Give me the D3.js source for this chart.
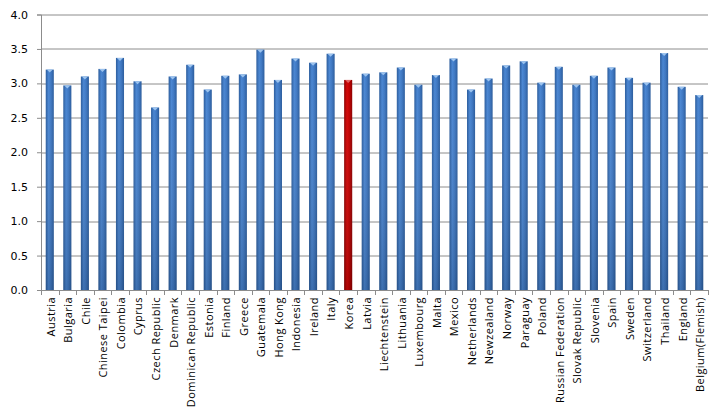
<!doctype html>
<html lang="en">
<head>
<meta charset="utf-8">
<script src="https://d3js.org/d3.v7.min.js"></script>
<style>
body { margin: 0; background: #fff; }
.axis text { font-family: "DejaVu Sans", Verdana, sans-serif; font-size: 11px; fill: #000; }
.xlab { font-family: "Open Sans", "Liberation Sans", sans-serif; font-size: 11px; fill: #000; letter-spacing: 0.45px; }
</style>
</head>
<body>
<script>
var countries = ["Austria", "Bulgaria", "Chile", "Chinese  Taipei", "Colombia", "Cyprus",
  "Czech Republic", "Denmark", "Dominican Republic", "Estonia", "Finland", "Greece",
  "Guatemala", "Hong Kong", "Indonesia", "Ireland", "Italy", "Korea", "Latvia",
  "Liechtenstein", "Lithuania", "Luxembourg", "Malta", "Mexico", "Netherlands",
  "Newzealand", "Norway", "Paraguay", "Poland", "Russian Federation", "Slovak Republic",
  "Slovenia", "Spain", "Sweden", "Switzerland", "Thailand", "England", "Belgium(Flemish)"];
var values = [3.20, 2.97, 3.10, 3.21, 3.37, 3.03, 2.65, 3.10, 3.27, 2.91, 3.11, 3.13,
  3.49, 3.05, 3.36, 3.30, 3.43, 3.05, 3.14, 3.16, 3.23, 2.98, 3.12, 3.36, 2.91,
  3.07, 3.26, 3.32, 3.01, 3.24, 2.98, 3.11, 3.23, 3.08, 3.01, 3.44, 2.95, 2.83];
var highlight = "Korea";
var yTicks = [0, 0.5, 1, 1.5, 2, 2.5, 3, 3.5, 4];

var W = 717, H = 415;
var margin = {top: 14.5, right: 9, bottom: 125, left: 41};
var width = W - margin.left - margin.right,
    height = H - margin.top - margin.bottom;

var svg = d3.select("body").append("svg")
  .attr("width", W).attr("height", H);

var defs = svg.append("defs");
function grad(id, edge, mid, light) {
  var g = defs.append("linearGradient").attr("id", id)
    .attr("x1", "0%").attr("x2", "100%").attr("y1", "0%").attr("y2", "0%");
  g.append("stop").attr("offset", "0%").attr("stop-color", edge);
  g.append("stop").attr("offset", "35%").attr("stop-color", light);
  g.append("stop").attr("offset", "65%").attr("stop-color", mid);
  g.append("stop").attr("offset", "100%").attr("stop-color", edge);
}
grad("blueGrad", "#2b5c9c", "#3f78c2", "#4a86d2");
grad("redGrad", "#8a0000", "#c00000", "#d40808");
var shade = defs.append("linearGradient").attr("id", "shade")
  .attr("x1", "0%").attr("x2", "0%").attr("y1", "0%").attr("y2", "100%");
shade.append("stop").attr("offset", "0%").attr("stop-color", "#fff").attr("stop-opacity", 0);
shade.append("stop").attr("offset", "100%").attr("stop-color", "#000").attr("stop-opacity", 0.15);

var g = svg.append("g")
  .attr("transform", "translate(" + margin.left + "," + margin.top + ")");

var x = d3.scaleBand().domain(countries).range([0, width]).paddingInner(0.54).paddingOuter(0.27);
var y = d3.scaleLinear().domain([0, 4]).range([height, 0]);

// gridlines
g.selectAll(".grid").data(yTicks.slice(1)).enter().append("line")
  .attr("x1", 0).attr("x2", width)
  .attr("y1", function(d) { return Math.round(y(d)) + 0.5; })
  .attr("y2", function(d) { return Math.round(y(d)) + 0.5; })
  .attr("stroke", "#8c8c8c").attr("stroke-width", 1);

// bars
var data = countries.map(function(c, i) { return {c: c, v: values[i]}; });
g.selectAll(".bar").data(data).enter().append("rect")
  .attr("x", function(d) { return x(d.c); })
  .attr("y", function(d) { return y(d.v); })
  .attr("width", x.bandwidth())
  .attr("height", function(d) { return height - y(d.v); })
  .attr("fill", function(d) { return d.c === highlight ? "url(#redGrad)" : "url(#blueGrad)"; });
g.selectAll(".shade").data(data).enter().append("rect")
  .attr("x", function(d) { return x(d.c); })
  .attr("y", function(d) { return y(d.v); })
  .attr("width", x.bandwidth())
  .attr("height", function(d) { return height - y(d.v); })
  .attr("fill", "url(#shade)");
// bevel highlight at top
g.selectAll(".cap").data(data).enter().append("path")
  .attr("d", function(d) {
    var x0 = x(d.c), w = x.bandwidth(), y0 = y(d.v);
    return "M" + (x0 + 1) + "," + y0 + "L" + (x0 + w - 1) + "," + y0 +
      "L" + (x0 + w / 2) + "," + (y0 + 3) + "Z";
  })
  .attr("fill", function(d) { return d.c === highlight ? "#e06060" : "#9cc3ee"; });

// y axis
var yAxis = g.append("g").attr("class", "axis")
  .call(d3.axisLeft(y).tickValues(yTicks).tickFormat(d3.format(".1f")).tickSize(4).tickPadding(9));
yAxis.select(".domain").attr("stroke", "#8c8c8c");
yAxis.selectAll(".tick line").attr("stroke", "#8c8c8c");

// x axis
var xa = g.append("g").attr("transform", "translate(0," + height + ")");
xa.append("line").attr("x1", 0).attr("x2", width).attr("y1", 0.5).attr("y2", 0.5)
  .attr("stroke", "#8c8c8c");
var step = x.step();
xa.selectAll(".xt").data(d3.range(countries.length + 1)).enter().append("line")
  .attr("x1", function(i) { return Math.round(i * step) + 0.5; })
  .attr("x2", function(i) { return Math.round(i * step) + 0.5; })
  .attr("y1", 0).attr("y2", 5)
  .attr("stroke", "#8c8c8c");
xa.selectAll(".xlab").data(countries).enter().append("text")
  .attr("class", "xlab")
  .attr("transform", function(d) {
    return "translate(" + (x(d) + x.bandwidth() / 2 + 1) + ",7) rotate(-90)";
  })
  .attr("text-anchor", "end")
  .attr("dy", "0.35em")
  .text(function(d) { return d; });
</script>
</body>
</html>
